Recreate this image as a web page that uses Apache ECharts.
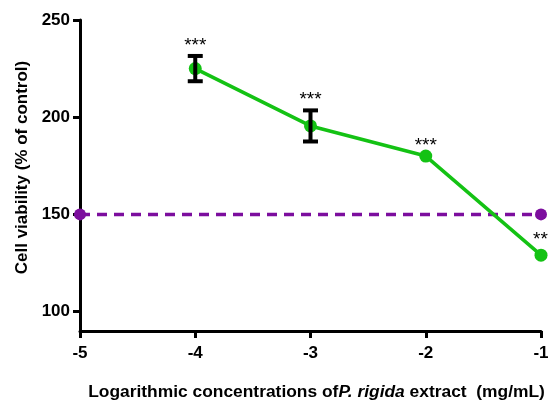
<!DOCTYPE html>
<html><head><meta charset="utf-8">
<script src="https://cdn.jsdelivr.net/npm/echarts@6/dist/echarts.min.js"></script>
<style>html,body{margin:0;padding:0;background:#fff}#c{width:550px;height:403px}</style>
</head><body><div id="c"></div>
<script>
const concentrations = [-4, -3, -2, -1];
const viability = [225, 195.5, 180, 129];
const errorSD = [6.5, 8, 0, 0];
const significance = ['***', '***', '***', '**'];
const controlX = [-5, -1];
const controlY = [150, 150];
const yTicks = [100, 150, 200, 250];
const xTicks = [-5, -4, -3, -2, -1];

const green = '#14c214';
const purple = '#7c0e9e';
const font = 'Liberation Sans, Arial, sans-serif';

const chart = echarts.init(document.getElementById('c'), null, {renderer: 'canvas'});
chart.setOption({
  animation: false,
  grid: {left: 80, right: 9, top: 20, bottom: 72, containLabel: false, outerBoundsMode: 'none'},
  xAxis: {
    type: 'value', min: -5, max: -1, interval: 1,
    axisLine: {show: true, onZero: false, lineStyle: {color: '#000', width: 3}},
    axisTick: {show: true, length: 7, lineStyle: {color: '#000', width: 3}},
    axisLabel: {color: '#000', fontFamily: font, fontWeight: 'bold', fontSize: 17, margin: 14},
    splitLine: {show: false},
    name: '{n|Logarithmic concentrations of}{i|P. rigida}{n| extract  (mg/mL)}',
    nameLocation: 'middle', nameGap: 53,
    nameTextStyle: {padding: [0, 0, 0, 12], rich: {
      n: {fontFamily: font, fontWeight: 'bold', fontSize: 17.4, color: '#000'},
      i: {fontFamily: font, fontWeight: 'bold', fontStyle: 'italic', fontSize: 17.4, color: '#000'}
    }}
  },
  yAxis: {
    type: 'value', min: 90, max: 250, interval: 10,
    axisLine: {show: true, lineStyle: {color: '#000', width: 3}},
    axisTick: {show: true, length: 7, customValues: yTicks, lineStyle: {color: '#000', width: 3}},
    axisLabel: {customValues: yTicks, color: '#000', fontFamily: font, fontWeight: 'bold', fontSize: 17, margin: 10},
    splitLine: {show: false},
    name: 'Cell viability (% of control)', nameLocation: 'middle', nameGap: 44,
    nameTextStyle: {fontFamily: font, fontWeight: 'bold', fontSize: 17, color: '#000', padding: [0, 0, 0, 16]}
  },
  series: [
    {
      type: 'line', data: controlX.map((x, i) => [x, controlY[i]]),
      symbol: 'circle', symbolSize: 12, clip: false, z: 3,
      itemStyle: {color: purple},
      lineStyle: {color: purple, width: 3.5, type: [10, 7]}
    },
    {
      type: 'line', data: concentrations.map((x, i) => [x, viability[i]]),
      symbol: 'circle', symbolSize: 13, clip: false, z: 4,
      itemStyle: {color: green},
      lineStyle: {color: green, width: 3.5}
    },
    {
      type: 'custom', z: 5, clip: false,
      data: concentrations.map((x, i) => [x, viability[i], errorSD[i], i]),
      renderItem: function (params, api) {
        const x = api.value(0), y = api.value(1), e = api.value(2), idx = api.value(3);
        const top = api.coord([x, y + e]);
        const bot = api.coord([x, y - e]);
        const c = api.coord([x, y]);
        const children = [];
        if (e > 0) {
          const w = 7.5;
          const st = {stroke: '#000', lineWidth: 4};
          children.push({type: 'line', shape: {x1: top[0], y1: top[1], x2: bot[0], y2: bot[1]}, style: st});
          children.push({type: 'line', shape: {x1: top[0] - w, y1: top[1], x2: top[0] + w, y2: top[1]}, style: st});
          children.push({type: 'line', shape: {x1: bot[0] - w, y1: bot[1], x2: bot[0] + w, y2: bot[1]}, style: st});
        }
        const last = idx === concentrations.length - 1;
        children.push({
          type: 'text',
          x: last ? c[0] - 8 : top[0],
          y: last ? c[1] - 25 : top[1] - 20,
          style: {text: significance[idx], fill: '#000', font: '19px ' + font,
                  align: last ? 'left' : 'center', verticalAlign: 'top'}
        });
        return {type: 'group', children: children};
      }
    }
  ]
});
</script></body></html>
